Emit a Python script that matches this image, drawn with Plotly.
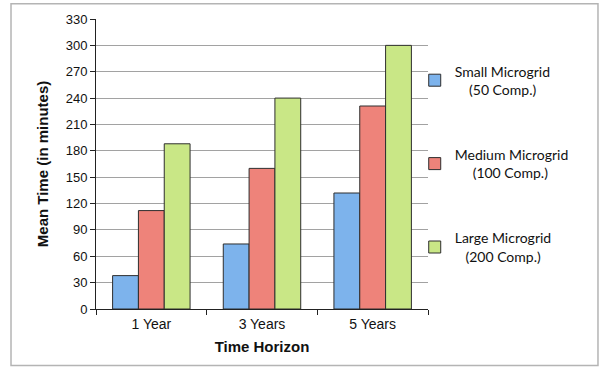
import plotly.graph_objects as go

# Mean time per planning horizon and microgrid size
horizons = ["1 Year", "3 Years", "5 Years"]
small_vals = [38, 74, 132]
medium_vals = [112, 160, 231]
large_vals = [188, 240, 300]

series_names = [
    "Small Microgrid<br>\u00a0\u00a0\u00a0\u00a0(50 Comp.)",
    "Medium Microgrid<br>\u00a0\u00a0\u00a0\u00a0\u00a0(100 Comp.)",
    "Large Microgrid<br>\u00a0\u00a0\u00a0(200 Comp.)",
]
series_values = [small_vals, medium_vals, large_vals]
series_colors = ["#7db3ec", "#ee837a", "#c9e786"]
y_ticks = list(range(0, 331, 30))

fig = go.Figure()
for i, (name, vals, color) in enumerate(zip(series_names, series_values, series_colors)):
    fig.add_trace(go.Bar(
        x=horizons, y=vals, name=name, legendgroup=f"g{i}",
        marker=dict(color=color, line=dict(color="#2e2e2e", width=1)),
    ))

fig.update_layout(
    width=600, height=368,
    margin=dict(l=96, r=172, t=17, b=59),
    paper_bgcolor="white", plot_bgcolor="white",
    barmode="group", bargap=0.30, bargroupgap=0,
    font=dict(family="Liberation Sans, Arial, sans-serif", size=13, color="#111"),
    legend=dict(
        x=0.96, y=0.5, xanchor="left", yanchor="middle",
        font=dict(family="Lato, Open Sans, sans-serif", size=14, color="#111"),
        tracegroupgap=44, itemwidth=30,
        bgcolor="rgba(0,0,0,0)",
    ),
    xaxis=dict(
        title=dict(text="<b>Time Horizon</b>", font=dict(size=15), standoff=10),
        tickfont=dict(size=14),
        showline=True, linecolor="#222", linewidth=1,
        ticks="outside", tickson="boundaries", ticklen=5, tickcolor="#222",
        ticklabelstandoff=2,
        showgrid=False,
    ),
    yaxis=dict(
        title=dict(text="<b>Mean Time (in minutes)</b>", font=dict(size=15), standoff=13),
        tickfont=dict(size=13),
        range=[0, 330], tickvals=y_ticks,
        showline=True, linecolor="#222", linewidth=1,
        ticks="outside", ticklen=5, tickcolor="#222",
        showgrid=True, gridcolor="#a2a2a2", gridwidth=1,
        zeroline=False,
    ),
)

# Light frame around the whole chart
fig.add_shape(
    type="rect", xref="paper", yref="paper",
    x0=-0.256, x1=1.512, y0=-0.195, y1=1.053,
    line=dict(color="#b4b4b4", width=1.5), fillcolor="rgba(0,0,0,0)",
    layer="below",
)

fig.write_html("out.html")
